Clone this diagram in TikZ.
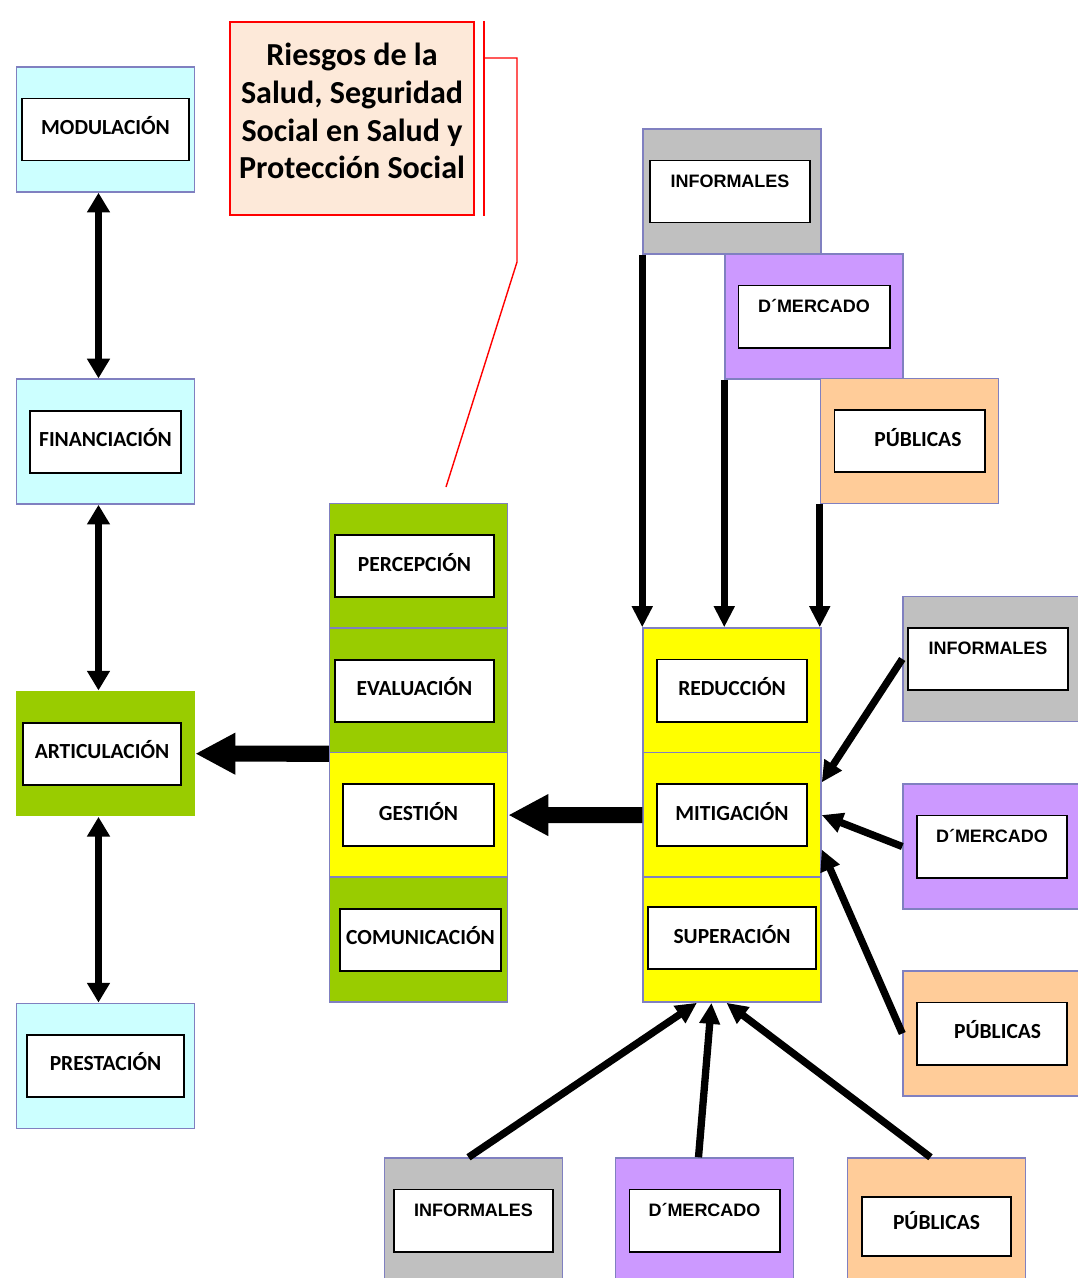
\documentclass[tikz,border=0pt]{standalone}
\usepackage{fontspec}
\setmainfont{Carlito}
\newfontfamily\arialfont{Liberation Sans}
\usepackage{tikz}
\usetikzlibrary{arrows.meta}
\definecolor{boxline}{HTML}{8080C0}
\definecolor{paleblue}{HTML}{CCFFFF}
\definecolor{leafgreen}{HTML}{99CC00}
\definecolor{sunyellow}{HTML}{FFFF00}
\definecolor{informgray}{HTML}{C0C0C0}
\definecolor{mercpurple}{HTML}{CC99FF}
\definecolor{publpeach}{HTML}{FFCC99}
\definecolor{titlefill}{HTML}{FDE9D9}
\tikzset{
    outerbox/.style={
           rectangle,
           draw=boxline, line width=1pt,
           minimum width=4.45cm,
           minimum height=3.125cm,
           inner sep=0pt,
           },
    innerbox/.style={
           rectangle,
           draw=black, line width=1.4pt,
           fill=white,
           minimum height=1.55cm,
           inner sep=0pt,
           font=\fontsize{15.3}{17}\selectfont\bfseries,
           text height=9.9pt,
           text depth=2.8pt,
           },
    toplabel/.style={
           font=\arialfont\fontsize{12.8}{15}\selectfont\bfseries,
           text height=9.2pt,
           text depth=15pt,
           },
    titlebox/.style={
           rectangle,
           draw=red, line width=1.4pt,
           fill=titlefill,
           minimum width=6.1cm,
           minimum height=4.825cm,
           align=center,
           font=\fontsize{22.8}{27}\selectfont\bfseries,
           },
    twoway/.style={{Triangle[width=15.6pt,length=14pt]}-{Triangle[width=15.6pt,length=14pt]}, line width=4.3pt},
    bigarrow/.style={-{Triangle[width=27.7pt,length=28.5pt]}, line width=11.4pt},
    feed/.style={-{Triangle[width=14pt,length=15pt]}, line width=5.2pt},
    callout/.style={draw=red, line width=1pt},
}

\begin{document}
\begin{tikzpicture}[x=0.025cm, y=-0.025cm]
    \useasboundingbox (0,0) rectangle (1078,1278);
    \clip (0,0) rectangle (1078,1278);

    % Left column: the four functions
    \node[outerbox, fill=paleblue] (modulacion) at (105.5,129.5) {};
    \node[outerbox, fill=paleblue,
    below of=modulacion,
    node distance=7.8cm] (financiacion) {};
    \node[outerbox, fill=leafgreen, draw=none,
    below of=financiacion,
    node distance=7.8cm] (articulacion) {};
    \node[outerbox, fill=paleblue,
    below of=articulacion,
    node distance=7.8cm] (prestacion) {};

    \node[innerbox, minimum width=4.15cm] (modulacionin) at (modulacion) {MODULACIÓN};
    \node[innerbox, minimum width=3.775cm] (financiacionin) at (financiacion) {FINANCIACIÓN};
    \node[innerbox, minimum width=3.95cm,
    xshift=-0.0875cm] (articulacionin) at (articulacion) {ARTICULACIÓN};
    \node[innerbox, minimum width=3.9cm] (prestacionin) at (prestacion) {PRESTACIÓN};

    % Middle column: risk management steps
    \node[outerbox, fill=leafgreen] (percepcion) at (418.5,566) {};
    \node[outerbox, fill=leafgreen,
    below of=percepcion,
    node distance=3.1125cm] (evaluacion) {};
    \node[outerbox, fill=sunyellow,
    below of=evaluacion,
    node distance=3.1125cm] (gestion) {};
    \node[outerbox, fill=leafgreen,
    below of=gestion,
    node distance=3.1125cm] (comunicacion) {};

    \node[innerbox, minimum width=3.975cm, xshift=-0.1cm] (percepcionin) at (percepcion) {PERCEPCIÓN};
    \node[innerbox, minimum width=3.975cm, xshift=-0.1cm] (evaluacionin) at (evaluacion) {EVALUACIÓN};
    \node[innerbox, minimum width=3.75cm] (gestionin) at (gestion) {GESTIÓN};
    \node[innerbox, minimum width=4.025cm, xshift=0.05cm] (comunicacionin) at (comunicacion) {COMUNICACIÓN};

    % Right column: strategies
    \node[outerbox, fill=sunyellow] (reduccion) at (732,690.5) {};
    \node[outerbox, fill=sunyellow,
    below of=reduccion,
    node distance=3.1125cm] (mitigacion) {};
    \node[outerbox, fill=sunyellow,
    below of=mitigacion,
    node distance=3.1125cm] (superacion) {};

    \node[innerbox, minimum width=3.75cm] (reduccionin) at (reduccion) {REDUCCIÓN};
    \node[innerbox, minimum width=3.75cm] (mitigacionin) at (mitigacion) {MITIGACIÓN};
    \node[innerbox, minimum width=4.175cm, yshift=0.0375cm] (superacionin) at (superacion) {SUPERACIÓN};

    % Sources above REDUCCIÓN
    \node[outerbox, fill=informgray] (infsup) at (732,191.5) {};
    \node[outerbox, fill=mercpurple] (mercsup) at (814,316.5) {};
    \node[outerbox, fill=publpeach] (pubsup) at (909.5,441) {};
    \node[innerbox, toplabel, minimum width=4cm, xshift=-0.05cm] (infsupin) at (infsup) {INFORMALES};
    \node[innerbox, toplabel, minimum width=3.775cm] (mercsupin) at (mercsup) {D´MERCADO};
    \node[innerbox, minimum width=3.75cm] (pubsupin) at (pubsup) {\hspace*{12pt}PÚBLICAS};

    % Sources beside MITIGACIÓN
    \node[outerbox, fill=informgray] (infder) at (992,659) {};
    \node[outerbox, fill=mercpurple] (mercder) at (992,846.5) {};
    \node[outerbox, fill=publpeach] (pubder) at (992,1033.5) {};
    \node[innerbox, toplabel, minimum width=4cm, xshift=-0.1cm] (infderin) at (infder) {INFORMALES};
    \node[innerbox, toplabel, minimum width=3.75cm] (mercderin) at (mercder) {D´MERCADO};
    \node[innerbox, minimum width=3.75cm] (pubderin) at (pubder) {\hspace*{8pt}PÚBLICAS};

    % Sources below SUPERACIÓN
    \node[outerbox, fill=informgray] (infinf) at (473.5,1220.5) {};
    \node[outerbox, fill=mercpurple] (mercinf) at (704.5,1220.5) {};
    \node[outerbox, fill=publpeach] (pubinf) at (936.5,1220.5) {};
    \node[innerbox, toplabel, minimum width=3.975cm] (infinfin) at (infinf) {INFORMALES};
    \node[innerbox, toplabel, minimum width=3.75cm] (mercinfin) at (mercinf) {D´MERCADO};
    \node[innerbox, minimum width=3.725cm, minimum height=1.475cm,
    text depth=6pt,
    yshift=-0.15cm] (pubinfin) at (pubinf) {PÚBLICAS};

    % Title with its callout
    \node[titlebox] (riesgos) at (352,118.5)
    {Riesgos de la\\Salud, Seguridad\\Social en Salud y\\Protección Social\rule[-11pt]{0pt}{11pt}};
    \coordinate (callbend) at (517,262);
    \coordinate (calltip) at (446,487);
    \draw[callout] ([xshift=0.225cm]riesgos.north east) -- ([xshift=0.225cm]riesgos.south east);
    \draw[callout] ([xshift=0.225cm,yshift=-0.925cm]riesgos.north east) -| (callbend) -- (calltip);

    % the arrows
    \draw[twoway] ([xshift=-0.175cm]modulacion.south) -- ([xshift=-0.175cm]financiacion.north);
    \draw[twoway] ([xshift=-0.175cm]financiacion.south) -- ([xshift=-0.175cm]articulacion.north);
    \draw[twoway] ([xshift=-0.175cm]articulacion.south) -- ([xshift=-0.175cm]prestacion.north);

    \draw[bigarrow] (evaluacion.south west) -- (articulacion.east);
    \draw[bigarrow] (mitigacion.west) -- (gestion.east);

    \draw[feed] (infsup.south west) -- (infsup.south west |- reduccion.north);
    \draw[feed] (mercsup.south west) -- (mercsup.south west |- reduccion.north);
    \draw[feed] (pubsup.south west) -- (pubsup.south west |- reduccion.north);

    \draw[feed] (infder.west) -- (mitigacion.20);
    \draw[feed] (mercder.west) -- (mitigacion.east);
    \draw[feed] (pubder.west) -- (mitigacion.-21);

    \draw[feed] ([xshift=-0.125cm]infinf.north) -- (superacion.-119);
    \draw[feed] ([xshift=-0.15cm]mercinf.north) -- (superacion.-108);
    \draw[feed] ([xshift=-0.15cm]pubinf.north) -- (superacion.-95);
\end{tikzpicture}
\end{document}
